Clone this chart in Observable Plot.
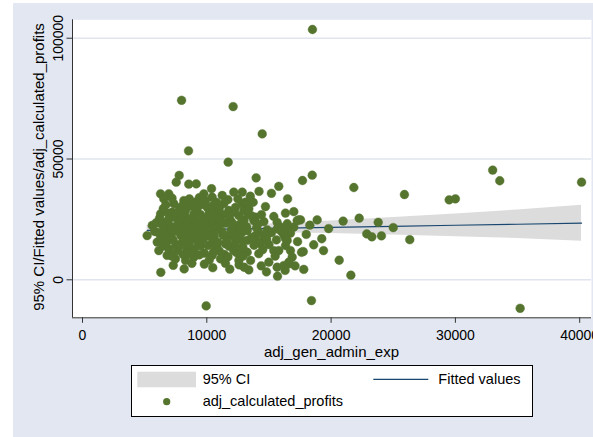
<!DOCTYPE html>
<html><head><meta charset="utf-8">
<script src="https://cdn.jsdelivr.net/npm/d3@7"></script>
<script src="https://cdn.jsdelivr.net/npm/@observablehq/plot@0.6"></script>
<style>
html,body{margin:0;padding:0;background:#fff;width:593px;height:437px;overflow:hidden;font-family:"Liberation Sans",Arial,sans-serif;}
#bg{position:absolute;left:13px;top:3px;width:580px;height:434px;background:#e2e7f1;}
#chart{position:absolute;left:13px;top:3px;width:580px;height:434px;}
#legend{position:absolute;left:131px;top:365px;}
</style></head>
<body>
<div id="bg"></div>
<div id="chart"></div>
<div id="legend"></div>
<script>
// ---- data ----
const xTicks = [0, 10000, 20000, 30000, 40000];
const yTicks = [0, 50000, 100000];
const xTitle = "adj_gen_admin_exp";
const yTitle = "95% CI/Fitted values/adj_calculated_profits";
const legendLabels = ["95% CI", "Fitted values", "adj_calculated_profits"];

// fitted line and 95% CI, read at several x positions
const fitX  = [5200, 10000, 15000, 20000, 25000, 30000, 35000, 40150];
const fitY  = [20480, 20880, 21310, 21730, 22150, 22570, 22990, 23430];
const ciLow = [18500, 19330, 19510, 19130, 18550, 17870, 17090, 15980];
const ciHigh= [22460, 22430, 23110, 24330, 25750, 27270, 28890, 30880];

// observations: [adj_gen_admin_exp, adj_calculated_profits]
const observations = [
[18500,103600],[7970,74300],[12120,71700],[14460,60400],[8530,53400],[11720,48700],[7780,43200],[13970,42200],[17700,41100],[18480,43300],
[7540,40400],[8550,39600],[9150,39700],[15790,38700],[21830,38200],[25900,35300],[29500,33100],[30000,33500],[33000,45400],[33570,41000],[40150,40400],
[17540,24800],[18290,22600],[18880,24800],[20970,24300],[22260,25500],[22870,19000],[23280,17800],[23790,23800],[24050,18200],[25000,21600],
[26330,16600],[19250,17000],[19390,12100],[17760,11700],[17800,4300],[20650,8100],[21590,1900],[18420,-8600],[35210,-11800],[9950,-10800],
[6300,3100],[8180,4500],[10480,5000],[11850,4400],[15690,1500],[13380,4100],[14380,5800],[17620,11400],
[10380,37700],[6280,35600],[6940,35600],[6540,33500],[7350,31500],[8150,32800],[9760,35600],[9090,32100],[9900,32800],[10430,34200],
[11240,34900],[12170,36300],[12850,36300],[6280,27300],[7220,28000],[8290,28700],[8960,27300],[10030,30000],[10700,28700],[11370,31500],
[11770,28700],[12310,30000],[12850,31500],[5610,22500],[6680,23800],[7750,24500],[8690,23200],[9630,25200],[10430,23800],[10970,22500],
[11910,24500],[12580,26600],[12450,21800],
[13110,32100],[13730,32100],[12980,28700],[13380,29400],[14720,30300],[15390,26200],[16330,27600],[12710,23200],[13780,24500],[14590,24100],
[15660,23800],[16470,23200],[17400,24800],[13250,20400],[14180,19700],[14860,20700],[15930,21800],[17000,21800],[16730,19300],
[5200,18300],[6010,15600],[6140,12100],[6940,12800],[6810,10100],[7480,8700],[7620,12100],[8020,15600],[8420,12800],[8290,8000],
[8960,9400],[9230,16300],[10030,19000],[10430,10100],[10700,12800],[11100,8700],[11500,14900],[12040,18300],[12170,12100],[12580,8000],
[12850,16300],[9230,19700],[8550,17600],
[12850,19700],[13250,16300],[13920,18300],[14320,14900],[14860,19000],[13250,11400],[14180,10800],[13520,8000],[14990,7300],[15390,12100],
[15790,12100],[15660,5200],[16190,5900],[16470,16300],[16330,14200],[16730,12100],[16870,9400],[16600,7300],[12710,10800],
[17270,24500],[16470,20400],[16330,17000],[16600,6600],[14800,16300],[14180,15600],[13920,25900],[15660,21100],
[5800,20000],[6300,17500],[6600,21000],[7000,19000],[7300,16500],[7600,21500],[7900,18500],[8200,22500],[8500,20000],[8800,17500],
[9100,21800],[9400,19000],[9700,16800],[10000,22000],[10300,20500],[10600,18000],[10900,15500],[11200,20000],[11600,17800],[12000,21000],
[12300,15800],[6200,25500],[6900,27500],[7400,25800],[7800,29800],[8300,26000],[8700,30500],[9200,29000],[9500,27000],[9900,25500],
[10200,27600],[10800,26000],[11300,27000],[11800,26200],[12200,28000],[6500,14000],[7000,11000],[7800,13800],[8100,10500],[8600,14800],
[9000,12800],[9500,14000],[9800,11000],[10200,8200],[10500,15600],[11000,12000],[11400,10500],[11800,13800],[12400,11200],[12900,13500],
[13200,22000],[13600,26500],[14000,21500],[14400,27000],[14800,17000],[15200,19500],[15600,16500],[16000,20000],[16200,18500],[15500,9800],
[14500,12500],[13800,14300],[6700,31000],[7200,33800],[8600,33500],[9400,34000],[10800,32000],[11700,33200],[9800,6500],[8800,6800],
[7300,6000],[11500,6800],[12600,6200],[13000,5200],[14800,3300],[16300,3900],[17100,5800],[15000,14600],[17300,15800],[18000,18800],
[18600,14500],[19800,21200],[17000,28200],[16500,33500],[15200,35800],[14200,36600],[13500,34600],
[5900,23500],[6400,22800],[6900,24800],[7200,22000],[7700,23000],[8000,26800],[8400,24300],[8900,25800],[9300,23800],[9800,23000],
[10500,24800],[11000,25000],[11500,23500],[12100,23300],[6100,19500],[6600,18500],[7100,17300],[7400,20000],[8000,20800],[8300,19000],
[9000,20000],[9600,20800],[10200,18000],[10800,21000],[11300,18500],[11900,19500],[12500,19000],[6800,15800],[7500,14500],[8200,16700],
[9300,15500],[10100,14200],[10800,13800],[11600,16000],[12300,14000],[7200,9800],[8600,10800],[9400,10300],[10500,11200],[11700,9500],
[12900,9800],[6500,29500],[7500,27500],[8100,31000],[9500,31000],[10500,30800],[11000,29500],[12500,33500],[13300,27500],[14100,23000],
[14600,18000],[13600,17500],[13000,24800]
];

// ---- styles ----
const GREEN = "#55752f", NAVY = "#1a476f", BAND = "#dcdcdc", GRID = "#dfe4ee", AXIS = "#333";
const FONT = '"Liberation Sans", Arial, sans-serif';

const fit = fitX.map((x, i) => ({x, y: fitY[i], lo: ciLow[i], hi: ciHigh[i]}));
const pts = observations.map(([x, y]) => ({x, y}));
const xDom = [-805, 40950], yDom = [-15730, 107620];

const chart = Plot.plot({
  width: 580, height: 434,
  marginLeft: 59, marginRight: 2, marginTop: 16.3, marginBottom: 119.7,
  style: {fontFamily: FONT, fontSize: "14px", color: "#000", background: "transparent", overflow: "visible"},
  x: {domain: xDom},
  y: {domain: yDom},
  marks: [
    Plot.frame({fill: "white", stroke: null}),
    Plot.ruleY(yTicks, {stroke: GRID, strokeWidth: 1.5}),
    Plot.areaY(fit, {x: "x", y1: "lo", y2: "hi", fill: BAND}),
    Plot.line(fit, {x: "x", y: "y", stroke: NAVY, strokeWidth: 1.2}),
    Plot.dot(pts, {x: "x", y: "y", r: 4.4, fill: GREEN, stroke: GREEN, strokeWidth: 0.4}),
    Plot.ruleX([xDom[0]], {stroke: AXIS, strokeWidth: 1}),
    Plot.ruleY([yDom[0]], {stroke: AXIS, strokeWidth: 1}),
    Plot.axisX(xTicks, {tickSize: 5.5, tickPadding: 7, tickFormat: d => String(d), fontSize: 14, label: null, stroke: AXIS}),
    Plot.axisY(yTicks, {tickSize: 5.5, tickPadding: 4, tickRotate: -90, tickFormat: d => String(d), fontSize: 14, label: null, stroke: AXIS})
  ]
});
document.getElementById("chart").appendChild(chart);

// axis titles
const svg = d3.select(chart);
svg.append("text").attr("x", (59 + 578) / 2).attr("y", 354).attr("text-anchor", "middle")
  .attr("font-size", 15).attr("font-family", FONT).text(xTitle);
svg.append("text").attr("transform", `translate(31,${167 - 3}) rotate(-90)`).attr("text-anchor", "middle")
  .attr("font-size", 15).attr("font-family", FONT).text(yTitle);

// legend
const lg = d3.select("#legend").append("svg").attr("width", 404).attr("height", 53)
  .attr("font-family", FONT).attr("font-size", 14.5);
lg.append("rect").attr("x", 0.5).attr("y", 0.5).attr("width", 401).attr("height", 51).attr("fill", "white").attr("stroke", "#000");
lg.append("rect").attr("x", 6.3).attr("y", 6.7).attr("width", 58.7).attr("height", 15.6).attr("fill", BAND);
lg.append("text").attr("x", 71.7).attr("y", 18.5).text(legendLabels[0]);
lg.append("line").attr("x1", 242.3).attr("x2", 297.3).attr("y1", 14.3).attr("y2", 14.3).attr("stroke", NAVY).attr("stroke-width", 1.2);
lg.append("text").attr("x", 307.3).attr("y", 18.5).text(legendLabels[1]);
lg.append("circle").attr("cx", 35.7).attr("cy", 36.7).attr("r", 3.6).attr("fill", GREEN);
lg.append("text").attr("x", 71.7).attr("y", 40.5).text(legendLabels[2]);
</script>
</body></html>
